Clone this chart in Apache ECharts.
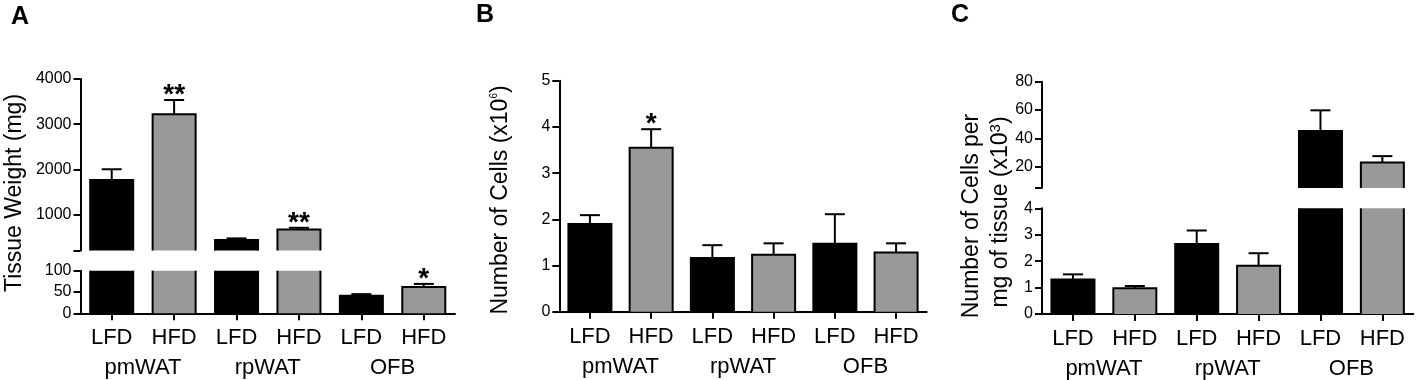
<!DOCTYPE html>
<html>
<head>
<meta charset="utf-8">
<script src="https://cdn.jsdelivr.net/npm/echarts@6/dist/echarts.min.js"></script>
<style>
  html, body { margin: 0; padding: 0; background: #fff; }
  #main { width: 1417px; height: 380px; }
</style>
</head>
<body>
<div id="main"></div>
<script>
// diets per bar, depot groups under them
var categories = ['LFD', 'HFD', 'LFD', 'HFD', 'LFD', 'HFD'];
var groups = ['pmWAT', 'rpWAT', 'OFB'];

// A: tissue weight (mg)
var weightMean = [1760, 3220, 430, 665, 41, 62];
var weightSem = [240, 315, 38, 38, 4, 7];
var weightStars = ['', '**', '', '**', '', '*'];
var weightUpperTicks = [1000, 2000, 3000, 4000];
var weightLowerTicks = [0, 50, 100];

// B: number of cells (x10^6)
var cellsMean = [1.90, 3.55, 1.16, 1.23, 1.47, 1.28];
var cellsSem = [0.19, 0.40, 0.28, 0.25, 0.64, 0.20];
var cellsStars = ['', '*', '', '', '', ''];
var cellsTicks = [0, 1, 2, 3, 4, 5];

// C: cells per mg of tissue (x10^3)
var densityMean = [1.31, 0.97, 2.65, 1.83, 45.2, 23.0];
var densitySem = [0.19, 0.09, 0.51, 0.47, 14.6, 4.5];
var densityStars = ['', '', '', '', '', ''];
var densityUpperTicks = [20, 40, 60, 80];
var densityLowerTicks = [0, 1, 2, 3, 4];

var FONT = 'Liberation Sans, Arial, sans-serif';

// bar drawn by hand so the cut edge at an axis break has no border
function barRender(mean, lo, hi){
    return function(params, api){
        var i = params.dataIndex, v = mean[i];
        if (v <= lo) return;
        var pt = api.coord([i, Math.min(v, hi)]),
            pb = api.coord([i, lo]),
            w = 43, x0 = pt[0] - w / 2, x1 = pt[0] + w / 2,
            line = { stroke: '#000', lineWidth: 2, fill: 'none' },
            kids = [{ type: 'rect', shape: { x: x0, y: pt[1], width: w, height: pb[1] - pt[1] },
                      style: { fill: i % 2 ? '#999999' : '#000000', stroke: 'none' } }];
        if (v <= hi) {
            kids.push({ type: 'polyline', shape: { points: [[x0, pb[1]], [x0, pt[1]], [x1, pt[1]], [x1, pb[1]]] },
                        style: line });
        } else {
            kids.push({ type: 'line', shape: { x1: x0, y1: pb[1], x2: x0, y2: pt[1] }, style: line });
            kids.push({ type: 'line', shape: { x1: x1, y1: pb[1], x2: x1, y2: pt[1] }, style: line });
        }
        return { type: 'group', children: kids };
    };
}

function errRender(mean, sem, stars, lo, hi){
    return function(params, api){
        var i = params.dataIndex, m = mean[i], t = m + sem[i];
        if (m >= hi || t <= lo) return;
        var p0 = api.coord([i, Math.max(m, lo)]),
            p1 = api.coord([i, Math.min(t, hi)]),
            kids = [{ type: 'line', shape: { x1: p0[0], y1: p0[1], x2: p1[0], y2: p1[1] },
                      style: { stroke: '#000', lineWidth: 2, fill: 'none' } }];
        if (t <= hi) {
            kids.push({ type: 'line', shape: { x1: p1[0] - 10, y1: p1[1], x2: p1[0] + 10, y2: p1[1] },
                        style: { stroke: '#000', lineWidth: 2, fill: 'none' } });
            if (stars[i]) {
                kids.push({ type: 'text', x: p1[0], y: p1[1] - 5,
                            style: { text: stars[i], font: 'bold 28px ' + FONT, fill: '#000',
                                     align: 'center', verticalAlign: 'middle' } });
            }
        }
        return { type: 'group', children: kids };
    };
}

function yAxis(grid, min, max, ticks, labels){
    return {
        type: 'value', gridIndex: grid, min: min, max: max,
        splitLine: { show: false },
        axisLine: { show: true, lineStyle: { color: '#000', width: 2 } },
        axisTick: { show: true, length: 7, lineStyle: { color: '#000', width: 2 }, customValues: ticks },
        axisLabel: { margin: 9, color: '#000', fontSize: 16, fontFamily: FONT, customValues: labels,
                     formatter: function(v){ return String(v); } }
    };
}

function xAxis(grid, shown){
    return {
        type: 'category', gridIndex: grid, data: categories, boundaryGap: true,
        axisLine: { show: shown, onZero: false, lineStyle: { color: '#000', width: 2 } },
        axisTick: { show: shown, alignWithLabel: true, length: 7, lineStyle: { color: '#000', width: 2 } },
        axisLabel: { show: shown, margin: 14, color: '#000', fontSize: 22, fontFamily: FONT, interval: 0 }
    };
}

function groupAxis(grid){
    return {
        type: 'category', gridIndex: grid, data: groups, position: 'bottom', offset: 30,
        axisLine: { show: false }, axisTick: { show: false },
        axisLabel: { margin: 14, color: '#000', fontSize: 22, fontFamily: FONT, interval: 0 }
    };
}

function barSeries(xi, yi, mean, lo, hi){
    return { type: 'custom', xAxisIndex: xi, yAxisIndex: yi, clip: false, silent: true, z: 3,
             data: mean.map(function(v, i){ return [i, v]; }),
             encode: { x: 0, y: 1 }, renderItem: barRender(mean, lo, hi) };
}

function errSeries(xi, yi, mean, sem, stars, lo, hi){
    return { type: 'custom', xAxisIndex: xi, yAxisIndex: yi, clip: false, silent: true, z: 5,
             data: mean.map(function(v, i){ return [i, v]; }),
             encode: { x: 0, y: 1 }, renderItem: errRender(mean, sem, stars, lo, hi) };
}

function vText(x, y, text, size, rich){
    return { type: 'text', x: x, y: y, rotation: Math.PI / 2,
             style: { text: text, font: size + 'px ' + FONT, fill: '#000', align: 'center',
                      verticalAlign: 'middle', rich: rich } };
}

function letter(x, y, t){
    return { type: 'text', x: x, y: y,
             style: { text: t, font: 'bold 25px ' + FONT, fill: '#000', align: 'left', verticalAlign: 'top' } };
}

var myChart = echarts.init(document.getElementById('main'), null, { renderer: 'canvas' });

var option = {
    backgroundColor: '#fff',
    animation: false,
    grid: [
        { left: 80.5, top: 79, width: 374.5, height: 171.5 },
        { left: 80.5, top: 270.7, width: 374.5, height: 42.6 },
        { left: 559.3, top: 80.7, width: 367.4, height: 231 },
        { left: 1042, top: 81.7, width: 371.3, height: 106.3 },
        { left: 1042, top: 208.3, width: 371.3, height: 105.7 }
    ],
    xAxis: [
        xAxis(0, false),
        xAxis(1, true), groupAxis(1),
        xAxis(2, true), groupAxis(2),
        xAxis(3, false),
        xAxis(4, true), groupAxis(4)
    ],
    yAxis: [
        yAxis(0, 200, 4000, [200].concat(weightUpperTicks), weightUpperTicks),
        yAxis(1, 0, 100, weightLowerTicks, weightLowerTicks),
        yAxis(2, 0, 5, cellsTicks, cellsTicks),
        yAxis(3, 5, 80, [5].concat(densityUpperTicks), densityUpperTicks),
        yAxis(4, 0, 4, densityLowerTicks, densityLowerTicks)
    ],
    series: [
        barSeries(0, 0, weightMean, 200, 4000), errSeries(0, 0, weightMean, weightSem, weightStars, 200, 4000),
        barSeries(1, 1, weightMean, 0, 100), errSeries(1, 1, weightMean, weightSem, weightStars, 0, 100),
        barSeries(3, 2, cellsMean, 0, 5), errSeries(3, 2, cellsMean, cellsSem, cellsStars, 0, 5),
        barSeries(5, 3, densityMean, 5, 80), errSeries(5, 3, densityMean, densitySem, densityStars, 5, 80),
        barSeries(6, 4, densityMean, 0, 4), errSeries(6, 4, densityMean, densitySem, densityStars, 0, 4)
    ],
    graphic: [
        letter(11, 5, 'A'), letter(476, 3, 'B'), letter(951, 3, 'C'),
        vText(15, 193, 'Tissue Weight (mg)', 23),
        vText(501, 200, 'Number of Cells (x10{sup|6})', 23,
              { sup: { fontSize: 10, fontFamily: FONT, verticalAlign: 'top', padding: [0, 0, 10, 0] } }),
        vText(972, 216, 'Number of Cells per', 23),
        vText(1001, 212, 'mg of tissue (x10{sup|3})', 23,
              { sup: { fontSize: 15, fontFamily: FONT, verticalAlign: 'top', padding: [0, 0, 10, 0] } })
    ]
};

myChart.setOption(option);
</script>
</body>
</html>
